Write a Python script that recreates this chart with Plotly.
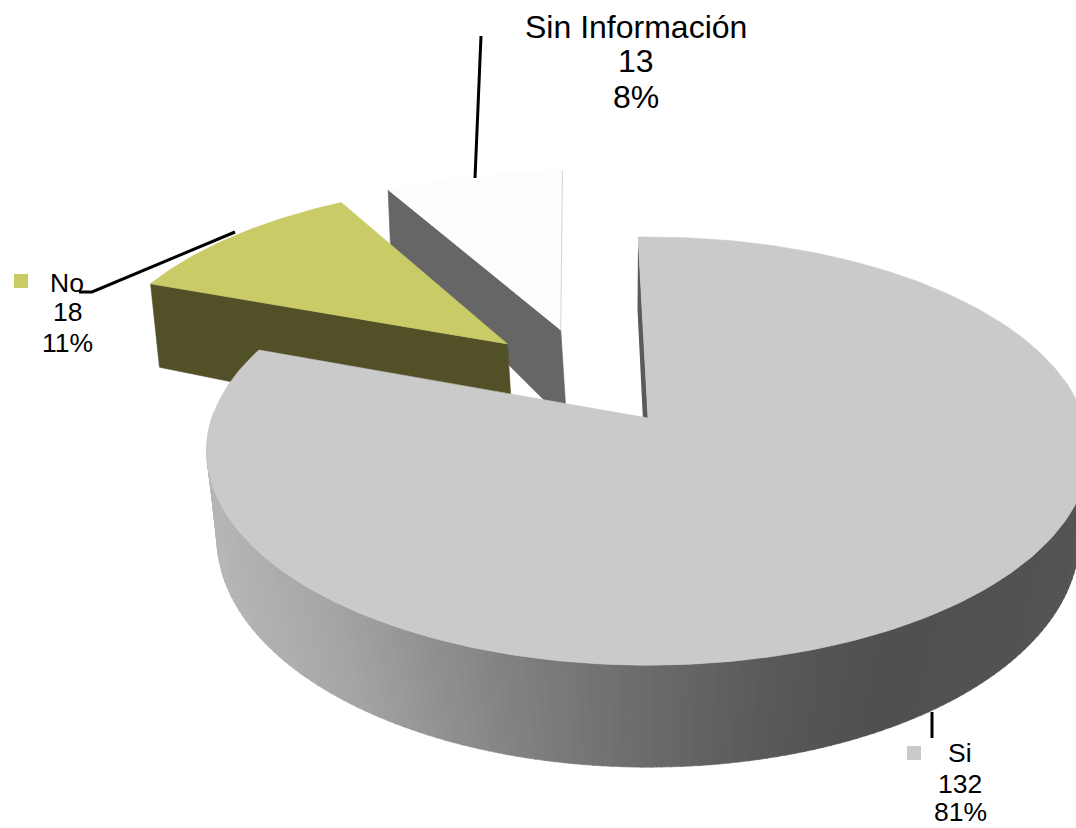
import numpy as np
import plotly.graph_objects as go

# Data
categories = ["Si", "No", "Sin Información"]
values = [132, 18, 13]
percent_labels = ["81%", "11%", "8%"]
top_colors = ["#cacaca", "#c9cb67", "#fdfdfd"]
wall_colors = ["#5a5a5a", "#525026", "#666666"]

# Perspective model of the tilted pie, in pixels of the 1076x828 page
W, H = 1076, 828
AX, AY = 648.0, 418.0       # projected disc centre, top face
RX, RY, K = 436.0, 209.0, 0.1544
BY, BRY, BK = 522.0, 228.0, 0.07   # bottom face
BRX_MAIN = 430.0
ROT = -1.5
explode = {"No": (-0.341, 0.375), "Sin Información": (-0.214, 0.45), "Si": (0.0, 0.0)}
radius = {"No": 0.985, "Sin Información": 1.0}
wall_rx = {"No": 405.0, "Sin Información": 392.0}


def top(u, v):
    w = 1 + K * v
    return AX + RX * u / w, AY - RY * v / w


def bottom(u, v, brx):
    w = 1 + BK * v
    return AX + brx * u / w, BY - BRY * v / w


def arc(a0, a1, n=120):
    t = np.radians(np.linspace(a0, a1, n))
    return np.sin(t), np.cos(t)


fig = go.Figure()


def poly(xs, ys, color, lw=0.6):
    fig.add_trace(go.Scatter(x=list(xs), y=list(ys), mode="lines", fill="toself",
                             fillcolor=color, line=dict(color=color, width=lw),
                             hoverinfo="skip", showlegend=False))


total = sum(values)
sweeps = [v / total * 360 for v in values]
starts = np.cumsum([0] + sweeps[:-1]) + ROT
spans = {c: (s, s + d) for c, s, d in zip(categories, starts, sweeps)}


def exploded_slice(cat):
    i = categories.index(cat)
    a0, a1 = spans[cat]
    eu, ev = explode[cat]
    r = radius[cat]
    brx = wall_rx[cat]
    su, sv = r * np.sin(np.radians(a0)), r * np.cos(np.radians(a0))
    p1 = top(eu + su, ev + sv)
    p2 = top(eu, ev)
    p3 = bottom(eu, ev, brx)
    p4 = bottom(eu + su, ev + sv, brx)
    poly([p1[0], p2[0], p3[0], p4[0], p1[0]], [p1[1], p2[1], p3[1], p4[1], p1[1]], wall_colors[i])
    u, v = arc(a0, a1, 40)
    x, y = top(eu + r * u, ev + r * v)
    cx, cy = top(eu, ev)
    poly(np.r_[cx, x, cx], np.r_[cy, y, cy], top_colors[i])
    return (x[-1], y[-1]), (cx, cy)


# back slices first
end, apex = exploded_slice("Sin Información")
fig.add_trace(go.Scatter(x=[end[0], apex[0]], y=[end[1], apex[1]], mode="lines",
                         line=dict(color="#d4d4d4", width=1), hoverinfo="skip", showlegend=False))
exploded_slice("No")

# Si: outer wall, a strip of shaded quads (front part of the rim only)
a0, a1 = spans["Si"]
edges = np.linspace(a0, a1, 241)
shade_x = [206, 340, 490, 640, 780, 880, 1076]
shade_v = [184, 166, 134, 108, 88, 80, 84]
for e0, e1 in zip(edges[:-1], edges[1:]):
    u, v = arc(e0, e1 + 0.15, 3)
    if v.min() > 0.02:
        continue
    xt, yt = top(u, v)
    xb, yb = bottom(u, v, BRX_MAIN)
    g = int(np.interp((xt.mean() + xb.mean()) / 2, shade_x, shade_v))
    poly(np.r_[xt, xb[::-1], xt[0]], np.r_[yt, yb[::-1], yt[0]], f"rgb({g},{g},{g})")

# Si: radial wall beside the opening
su, sv = np.sin(np.radians(a0)), np.cos(np.radians(a0))
p1 = top(su, sv)
p2 = bottom(su, sv, BRX_MAIN)
p3 = bottom(0, 0, BRX_MAIN)
p4 = top(0, 0)
poly([p1[0], p2[0], p3[0], p4[0], p1[0]], [p1[1], p2[1], p3[1], p4[1], p1[1]], wall_colors[0], 0)

# Si: top face
u, v = arc(a0, a1, 300)
x, y = top(u, v)
cx, cy = top(0, 0)
poly(np.r_[cx, x, cx], np.r_[cy, y, cy], top_colors[0])

# Leader lines
leaders = [([481, 475], [36, 178]), ([79, 92, 235], [292, 292, 232]), ([932, 932], [712, 738])]
for lx, ly in leaders:
    fig.add_trace(go.Scatter(x=lx, y=ly, mode="lines", line=dict(color="black", width=3),
                             hoverinfo="skip", showlegend=False))

# Legend keys inside the labels
fig.add_trace(go.Scatter(x=[21, 914], y=[281, 753], mode="markers",
                         marker=dict(symbol="square", size=14, color=[top_colors[1], top_colors[0]]),
                         hoverinfo="skip", showlegend=False))

# Labels: one annotation per line
label_pos = {"Si": (960, [753, 784, 812]), "No": (67, [283, 312, 343]),
             "Sin Información": (636, [27, 61, 97])}
for c, val, pct in zip(categories, values, percent_labels):
    px, pys = label_pos[c]
    for line, py in zip([c, str(val), pct], pys):
        fig.add_annotation(x=px, y=py, text=line, showarrow=False, xanchor="center", yanchor="middle",
                           font=dict(family="Liberation Sans", size=32 if c.startswith("Sin") else 26.5,
                                     color="black"))

fig.update_layout(width=W, height=H, margin=dict(l=0, r=0, t=0, b=0), autosize=False,
                  paper_bgcolor="white", plot_bgcolor="white", showlegend=False,
                  xaxis=dict(range=[0, W], visible=False, fixedrange=True),
                  yaxis=dict(range=[H, 0], visible=False, fixedrange=True))
fig.write_html("out.html", config={"displayModeBar": False, "responsive": False},
               post_script="document.body.style.margin='0';document.body.style.overflow='hidden';")
